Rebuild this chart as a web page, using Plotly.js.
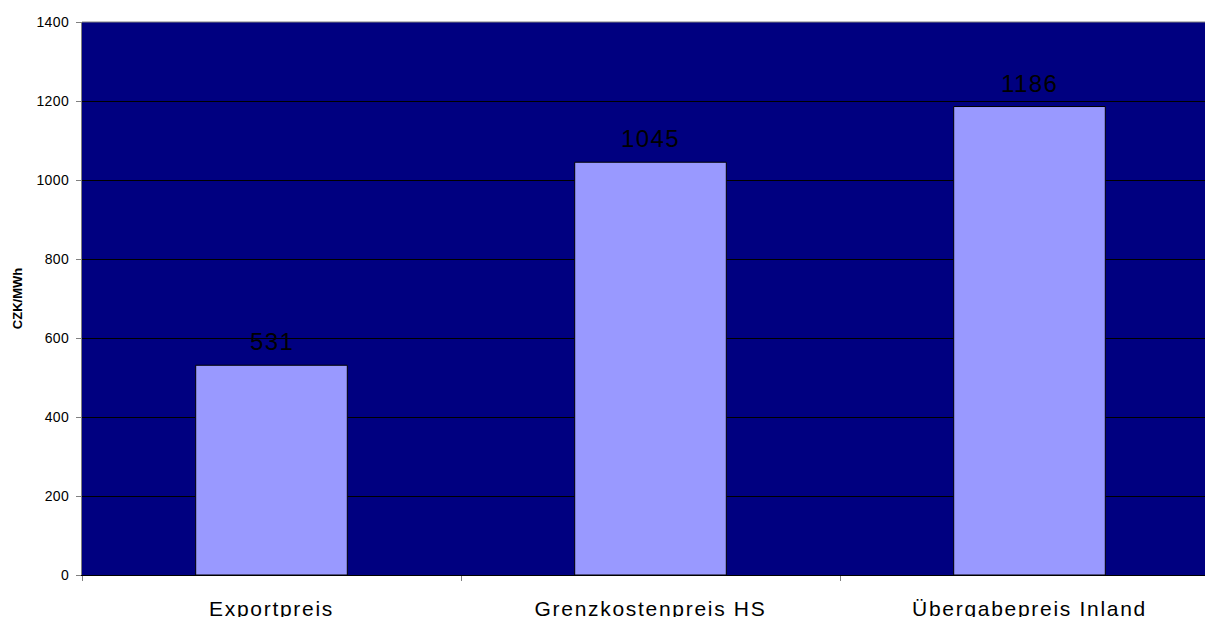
<!DOCTYPE html>
<html>
<head>
<meta charset="utf-8">
<script src="https://cdn.plot.ly/plotly-3.0.1.min.js"></script>
<style>
  html, body { margin: 0; padding: 0; background: #ffffff; overflow: hidden; }
  #chart { width: 1220px; height: 617px; }
  .xtick text { letter-spacing: 1.7px; }
  .ytick text { letter-spacing: 0.4px; }
  .annotation-text { letter-spacing: 1.4px; }
</style>
</head>
<body>
<div id="chart"></div>
<script>
// Price comparison in CZK/MWh
const categories = ["Exportpreis", "Grenzkostenpreis HS", "Übergabepreis Inland"];
const prices = [531, 1045, 1186];
const yTicks = [0, 200, 400, 600, 800, 1000, 1200, 1400];

const FONT = "Liberation Sans, Arial, Helvetica, sans-serif";

const trace = {
  type: "bar",
  x: categories,
  y: prices,
  width: 0.4,
  marker: { color: "#9999FF", line: { color: "#000000", width: 1 } },
  hoverinfo: "x+y"
};

// value labels above each bar
const labels = categories.map((c, i) => ({
  x: c,
  y: prices[i],
  xref: "x",
  yref: "y",
  text: String(prices[i]),
  showarrow: false,
  yanchor: "bottom",
  yshift: 8,
  font: { family: FONT, size: 24, color: "#000000" }
}));

const layout = {
  width: 1220,
  height: 617,
  margin: { l: 82, r: 1, t: 22, b: 42 },
  paper_bgcolor: "#ffffff",
  plot_bgcolor: "#000080",
  showlegend: false,
  bargap: 0.6,
  xaxis: {
    type: "category",
    tickson: "boundaries",
    ticks: "outside",
    ticklen: 5,
    tickcolor: "#808080",
    showgrid: false,
    showline: true,
    linecolor: "#000000",
    linewidth: 1,
    ticklabelstandoff: 15,
    tickfont: { family: FONT, size: 21, color: "#000000" },
    fixedrange: true
  },
  yaxis: {
    range: [0, 1400],
    tickvals: yTicks,
    ticktext: yTicks.map(String),
    ticks: "outside",
    ticklen: 5,
    tickcolor: "#808080",
    showgrid: true,
    gridcolor: "#000000",
    gridwidth: 1,
    zeroline: false,
    showline: true,
    linecolor: "#808080",
    linewidth: 1,
    ticklabelstandoff: 4,
    tickfont: { family: FONT, size: 14, color: "#000000" },
    title: {
      text: "<b>CZK/MWh</b>",
      font: { family: FONT, size: 13, color: "#000000" },
      standoff: 10
    },
    automargin: false,
    fixedrange: true
  },
  shapes: [{
    type: "line", xref: "paper", yref: "paper",
    x0: 0, x1: 1, y0: 1, y1: 1,
    line: { color: "#808080", width: 1 }
  }],
  annotations: labels
};

Plotly.newPlot("chart", [trace], layout, { displayModeBar: false, staticPlot: true });
</script>
</body>
</html>
